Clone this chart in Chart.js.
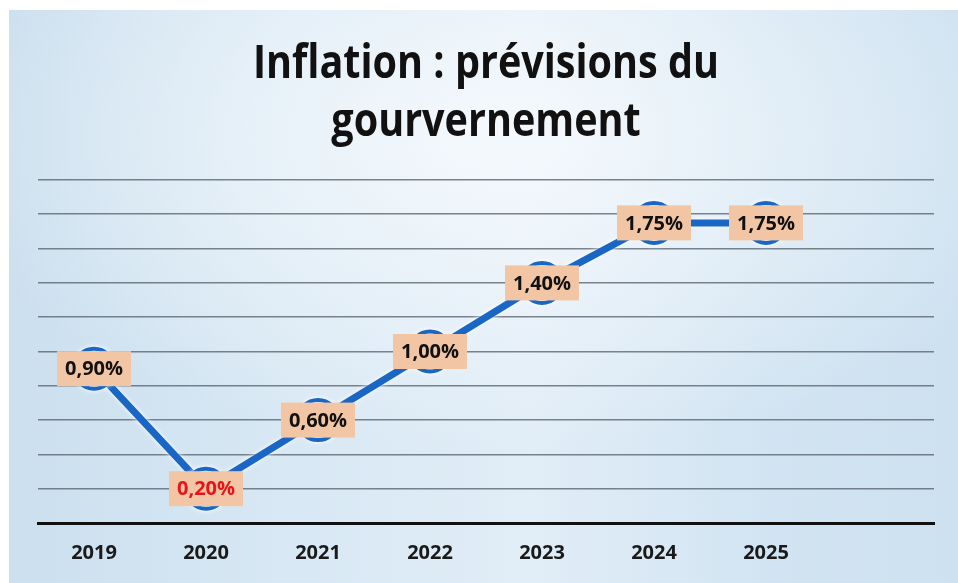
<!DOCTYPE html>
<html lang="fr">
<head>
<meta charset="utf-8">
<title>Inflation : prévisions du gourvernement</title>
<script src="https://cdn.jsdelivr.net/npm/chart.js@4.4.1/dist/chart.umd.min.js"></script>
<style>
  html, body { margin: 0; padding: 0; background: #ffffff; overflow: hidden; }
  .page {
    position: relative;
    width: 958px;
    height: 583px;
    overflow: hidden;
  }
  /* panneau bleu clair du graphique */
  .panel {
    position: absolute;
    left: 9px;
    top: 10px;
    width: 949px;
    height: 573px;
    background:
      radial-gradient(ellipse 60% 55% at 52% 22%, rgba(246, 250, 253, 0.9) 0%, rgba(246, 250, 253, 0) 100%),
      linear-gradient(90deg, #cbdfee 0%, #d8e8f4 30%, #e1edf7 55%, #d2e4f2 80%, #cde1f0 100%);
  }
  canvas { position: absolute; left: 0; top: 0; }
</style>
</head>
<body>
<div class="page">
  <div class="panel"></div>
  <canvas id="inflation" width="958" height="583"></canvas>
</div>
<script>
  // années (la dernière case reste vide, l'axe continue jusqu'au bord)
  const annees = ['2019', '2020', '2021', '2022', '2023', '2024', '2025', ''];
  // inflation prévue en %
  const inflation = [0.90, 0.20, 0.60, 1.00, 1.40, 1.75, 1.75];
  const etiquettes = ['0,90%', '0,20%', '0,60%', '1,00%', '1,40%', '1,75%', '1,75%'];
  const couleursTexte = ['#111111', '#e8141c', '#111111', '#111111', '#111111', '#111111', '#111111'];
  const titre = ['Inflation : prévisions du', 'gourvernement'];

  const BLEU = '#1a66c4';

  // titre sur deux lignes, police resserrée
  const titreResserre = {
    id: 'titreResserre',
    afterDraw(chart) {
      const ctx = chart.ctx;
      const cx = (chart.chartArea.left + chart.chartArea.right) / 2;
      ctx.save();
      ctx.fillStyle = '#111111';
      ctx.textAlign = 'center';
      ctx.textBaseline = 'middle';
      ctx.font = 'bold 46px "Open Sans", sans-serif';
      [65, 123].forEach((y, i) => {
        ctx.save();
        ctx.translate(cx, y);
        ctx.scale(0.86, 1);
        ctx.fillText(titre[i], 0, 0);
        ctx.restore();
      });
      ctx.restore();
    }
  };

  // halo clair autour de la courbe
  const halo = {
    id: 'halo',
    beforeDatasetDraw(chart) {
      const ctx = chart.ctx;
      ctx.save();
      ctx.shadowColor = 'rgba(255,255,255,0.95)';
      ctx.shadowBlur = 5;
    },
    afterDatasetDraw(chart) {
      chart.ctx.restore();
    }
  };

  // étiquettes de valeur : pavé saumon centré sur chaque point
  const etiquettesValeurs = {
    id: 'etiquettesValeurs',
    afterDatasetsDraw(chart) {
      const ctx = chart.ctx;
      const meta = chart.getDatasetMeta(0);
      ctx.save();
      ctx.font = 'bold 20px "Open Sans", sans-serif';
      ctx.textAlign = 'center';
      ctx.textBaseline = 'middle';
      meta.data.forEach((pt, i) => {
        const w = 74, h = 35;
        ctx.fillStyle = '#f2c6a4';
        ctx.fillRect(pt.x - w / 2, pt.y - h / 2, w, h);
        ctx.fillStyle = couleursTexte[i];
        ctx.fillText(etiquettes[i], pt.x, pt.y + 1);
      });
      ctx.restore();
    }
  };

  new Chart(document.getElementById('inflation'), {
    type: 'line',
    data: {
      labels: annees,
      datasets: [{
        data: inflation,
        borderColor: BLEU,
        borderWidth: 7,
        tension: 0,
        pointRadius: 20,
        pointHoverRadius: 20,
        pointBorderWidth: 4,
        pointBorderColor: BLEU,
        pointBackgroundColor: '#e4eef8',
        clip: false
      }]
    },
    options: {
      responsive: false,
      animation: false,
      events: [],
      layout: { padding: { left: 38, right: 18, top: 180, bottom: 0 } },
      plugins: {
        legend: { display: false },
        tooltip: { enabled: false },
        title: { display: false }
      },
      scales: {
        x: {
          offset: true,
          grid: { display: false, drawTicks: false },
          border: { display: true, color: '#111111', width: 3 },
          ticks: {
            color: '#1a1a1a',
            padding: 20,
            font: { family: '"Open Sans", sans-serif', size: 20, weight: 'bold', lineHeight: 1 }
          }
        },
        y: {
          min: 0,
          max: 2,
          ticks: { display: false, stepSize: 0.2 },
          border: { display: false },
          grid: {
            drawTicks: false,
            lineWidth: 1.6,
            color: (c) => c.tick && c.tick.value === 0 ? 'rgba(0,0,0,0)' : 'rgba(90,102,114,0.8)'
          }
        }
      }
    },
    plugins: [halo, etiquettesValeurs, titreResserre]
  });
</script>
</body>
</html>
